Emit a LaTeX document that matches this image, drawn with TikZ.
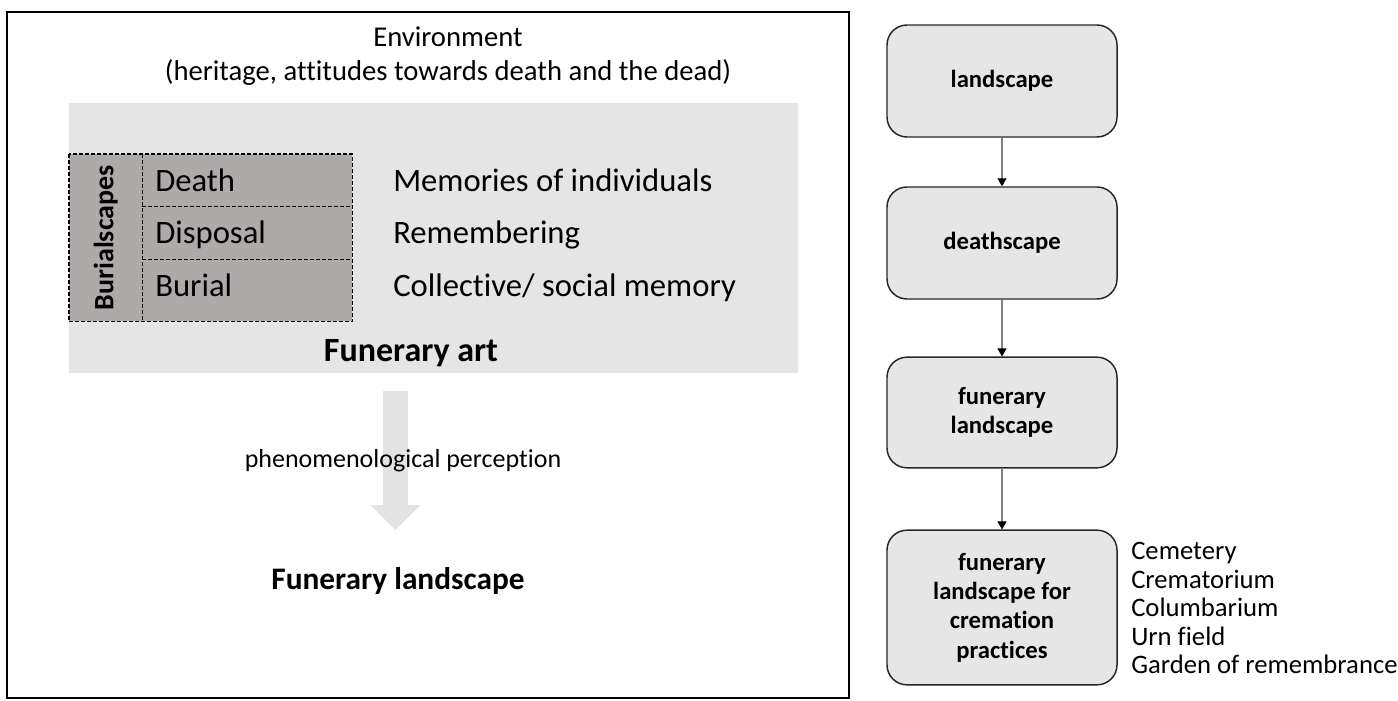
\documentclass[tikz,border=0pt]{standalone}
\usepackage{fontspec}
\setmainfont{Carlito}[Ligatures=NoCommon]
\usetikzlibrary{arrows.meta}
\usetikzlibrary{positioning}

\definecolor{panelgray}{HTML}{E6E5E5}
\definecolor{cellgray}{HTML}{AFAAAA}
\definecolor{boxgray}{HTML}{E6E6E6}
\definecolor{bigarrowgray}{HTML}{E3E3E3}

\begin{document}
\begin{tikzpicture}[x=0.75pt, y=-0.75pt,
    cell/.style={fill=cellgray, inner sep=0pt, anchor=north west, minimum width=157.5pt},
    gridline/.style={dash pattern=on 3pt off 1.5pt, line width=1.1pt},
    rowtext/.style={font=\fontsize{24.5}{29}\selectfont, anchor=base west, inner sep=0pt},
    stage/.style={draw=black!85, line width=1.1pt, fill=boxgray, rounded corners=15pt,
                  minimum width=172.5pt, align=center, font=\fontsize{18.5}{22}\selectfont\bfseries},
    flow/.style={draw=gray, line width=0.8pt, -{Triangle[black, width=6.75pt, length=6pt]}},
    bigflow/.style={draw=bigarrowgray, line width=18.75pt, -{Triangle[width=36.75pt, length=18.75pt]}}]
    \useasboundingbox (0,0) rectangle (1398,700);

    % left panel
    \draw[line width=1.5pt] (7,12) rectangle (849,698);
    \fill[panelgray] (69,103) rectangle (798,373);
    \node[font=\fontsize{21.5}{25.5}\selectfont, align=center, anchor=base] (env) at (448,80)
        {Environment\\(heritage, attitudes towards death and the dead)};

    % burialscapes grid
    \node[cell, minimum width=54.75pt, minimum height=125.25pt] (bscell) at (69,154) {};
    \node[cell, minimum height=39pt] (deathcell) at (142,154) {};
    \node[cell, minimum height=39.75pt] (disposalcell) at (142,206) {};
    \node[cell, minimum height=46.5pt] (burialcell) at (142,259) {};
    \draw[gridline] (bscell.north west) rectangle (burialcell.south east);
    \draw[gridline] (bscell.north east) -- (bscell.south east);
    \draw[gridline] (deathcell.south west) -- (deathcell.south east);
    \draw[gridline] (disposalcell.south west) -- (disposalcell.south east);
    \node[rotate=90, font=\fontsize{21}{25}\selectfont\bfseries] (bs) at (bscell.center) {Burialscapes};

    \node[rowtext] (death) at (155,191) {Death};
    \node[rowtext] (disposal) at (155,243.5) {Disposal};
    \node[rowtext] (burial) at (155,296) {Burial};
    \node[rowtext] (memind) at (393,191) {Memories of individuals};
    \node[rowtext] (remem) at (393,243.5) {Remembering};
    \node[rowtext] (memsoc) at (393,296) {Collective/ social memory};
    \node[font=\fontsize{25.5}{30}\selectfont\bfseries, anchor=base] (art) at (411,361) {Funerary art};

    % perception arrow
    \coordinate (perctop) at (395.5,391);
    \coordinate (perctip) at (395.5,530);
    \draw[bigflow] (perctop) -- (perctip);
    \node[font=\fontsize{19.5}{24}\selectfont, anchor=base] (perc) at (403,467) {phenomenological perception};
    \node[font=\fontsize{23.5}{28}\selectfont\bfseries, anchor=base] (funland) at (398,589) {Funerary landscape};

    % right column
    \node[stage, minimum height=84pt] (landscape) at (1002,81) {landscape};
    \node[stage, minimum height=84pt] (deathscape) at (1002,243) {deathscape};
    \node[stage, minimum height=83pt] (funerary) at (1002,412.5) {funerary\\landscape};
    \node[stage, minimum height=116pt] (cremation) at (1002,607.5) {funerary\\landscape for\\cremation\\practices};
    \draw[flow] (landscape) -- (deathscape);
    \draw[flow] (deathscape) -- (funerary);
    \draw[flow] (funerary) -- (cremation);
    \node[anchor=west, align=left, inner sep=0pt, font=\fontsize{20}{21.4}\selectfont] (sites) at (1131,608)
        {Cemetery\\Crematorium\\Columbarium\\Urn field\\Garden of remembrance};
\end{tikzpicture}
\end{document}
